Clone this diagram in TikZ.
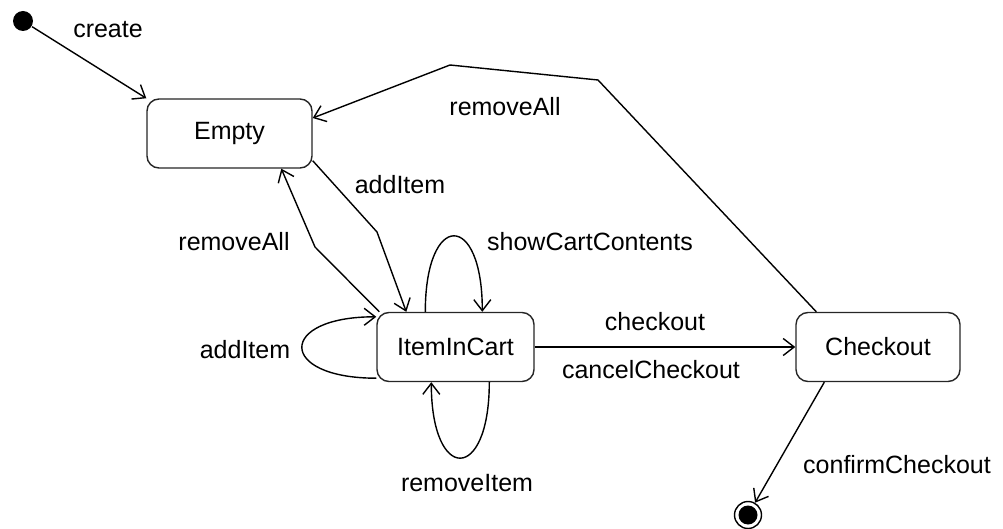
\documentclass[tikz,border=0pt]{standalone}
\usepackage{fontspec}
\setmainfont{Liberation Sans}
\usetikzlibrary{arrows.meta}

\begin{document}
\begin{tikzpicture}[x=1pt, y=-1pt, line width=1.4pt,
                    state/.style={draw=black!85, rounded corners=12pt, fill=white,
                                  minimum height=69pt, inner sep=0pt,
                                  font=\fontsize{25}{30}\selectfont},
                    trans/.style={-{Straight Barb[length=11pt, width=17pt]}},
                    lbl/.style={inner sep=0pt, font=\fontsize{25}{30}\selectfont}]
    \useasboundingbox (0,0) rectangle (1003,529);
    \node[circle, fill=black, inner sep=0pt, minimum size=20pt] (init) at (23,21) {};
    \node[state, minimum width=165pt] (empty)    at (229.5,133.5) {Empty};
    \node[state, minimum width=157pt] (cart)     at (455.5,347)   {ItemInCart};
    \node[state, minimum width=164pt] (checkout) at (878,347)     {Checkout};
    \node[circle, draw, inner sep=0pt, minimum size=27pt,
          path picture={\fill (path picture bounding box.center) circle (9.5pt);}]
          (final) at (748,515) {};
    % transitions
    \draw[trans] (init) -- (empty.north west);
    \draw[trans] ([xshift=21pt]checkout.north west) -- (598,80) -- (450,65)
                 -- ([yshift=15.5pt]empty.east);
    \draw[trans] ([yshift=8pt]empty.south east) -- (377,232)
                 -- ([xshift=30pt]cart.north west);
    \draw[trans] ([xshift=3pt]cart.north west) -- (315,247)
                 -- ([xshift=135pt]empty.south west);
    \draw[trans] ([xshift=49pt]cart.north west) .. controls +(0,-101) and +(0,-101)
                 .. ([xshift=106pt]cart.north west);
    \draw[trans] ([xshift=113pt]cart.south west) .. controls +(0,101) and +(0,101)
                 .. ([xshift=55pt]cart.south west);
    \draw[trans] ([yshift=4pt]cart.south west) .. controls +(-99,0) and +(-99,0)
                 .. ([yshift=-5pt]cart.north west);
    \draw[trans] (cart) -- (checkout);
    \draw[trans] ([xshift=29pt]checkout.south west) -- (final);
    % labels
    \node[lbl] (lcreate)   at (108,30)  {create};
    \node[lbl] (lremall)   at (505,107) {removeAll};
    \node[lbl] (laddright) at (400,185) {addItem};
    \node[lbl] (lremleft)  at (234,242) {removeAll};
    \node[lbl] (lshow)     at (590,242) {showCartContents};
    \node[lbl] (laddleft)  at (245,350) {addItem};
    \node[lbl] (lremitem)  at (467,483) {removeItem};
    \node[lbl] (lcheck)    at (655,322) {checkout};
    \node[lbl] (lcancel)   at (651,370) {cancelCheckout};
    \node[lbl] (lconfirm)  at (897,465) {confirmCheckout};
\end{tikzpicture}
\end{document}
